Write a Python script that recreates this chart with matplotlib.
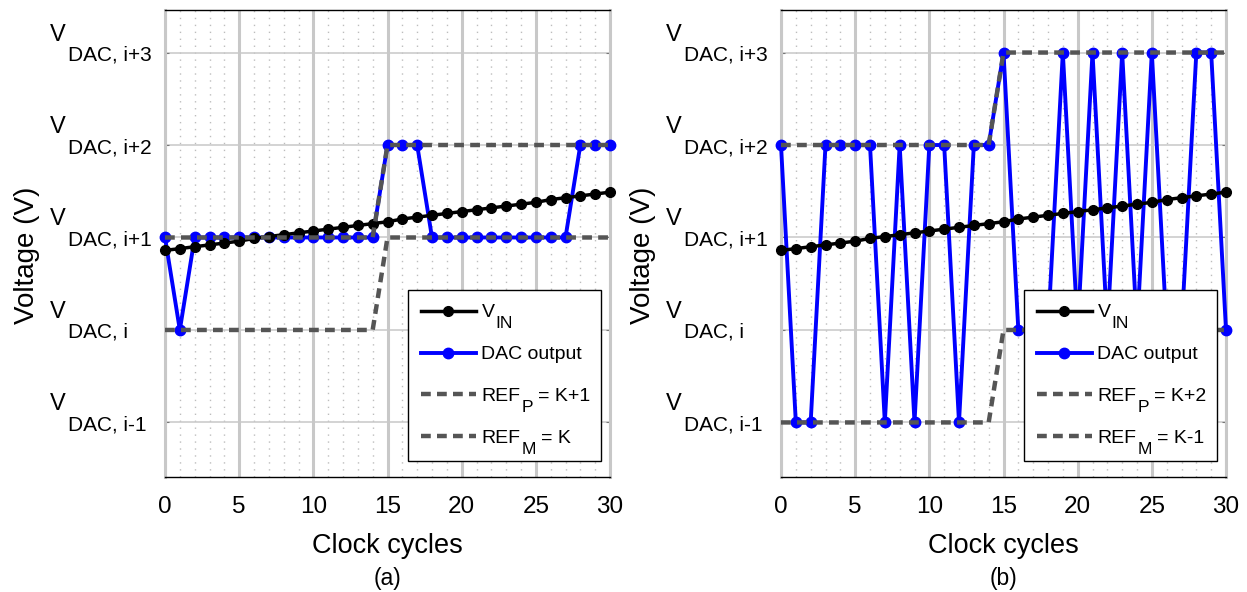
import numpy as np
import matplotlib
matplotlib.use('Agg')
import matplotlib.pyplot as plt
from matplotlib.transforms import IdentityTransform

plt.rcParams['font.family'] = ['Liberation Sans', 'DejaVu Sans']

# clock index and input ramp (in units of DAC levels, level i = 0)
cycles = np.arange(31)
v_in = [0.86, 0.88, 0.90, 0.92, 0.94, 0.96, 0.99, 1.01, 1.03, 1.05, 1.07,
        1.09, 1.11, 1.13, 1.15, 1.17, 1.20, 1.22, 1.24, 1.26, 1.28,
        1.30, 1.32, 1.34, 1.36, 1.38, 1.41, 1.43, 1.45, 1.47, 1.49]

# (a) REF_P = K+1, REF_M = K
dac_a = [1, 0, 1, 1, 1, 1, 1, 1, 1, 1, 1, 1, 1, 1, 1,
         2, 2, 2, 1, 1, 1, 1, 1, 1, 1, 1, 1, 1, 2, 2, 2]
refp_a = [1, 1, 1, 1, 1, 1, 1, 1, 1, 1, 1, 1, 1, 1, 1,
          2, 2, 2, 2, 2, 2, 2, 2, 2, 2, 2, 2, 2, 2, 2, 2]
refm_a = [0, 0, 0, 0, 0, 0, 0, 0, 0, 0, 0, 0, 0, 0, 0,
          1, 1, 1, 1, 1, 1, 1, 1, 1, 1, 1, 1, 1, 1, 1, 1]

# (b) REF_P = K+2, REF_M = K-1
dac_b = [2, -1, -1, 2, 2, 2, 2, -1, 2, -1, 2, 2, -1, 2, 2,
         3, 0, 0, 0, 3, 0, 3, 0, 3, 0, 3, 0, 0, 3, 3, 0]
refp_b = [2, 2, 2, 2, 2, 2, 2, 2, 2, 2, 2, 2, 2, 2, 2,
          3, 3, 3, 3, 3, 3, 3, 3, 3, 3, 3, 3, 3, 3, 3, 3]
refm_b = [-1, -1, -1, -1, -1, -1, -1, -1, -1, -1, -1, -1, -1, -1, -1,
          0, 0, 0, 0, 0, 0, 0, 0, 0, 0, 0, 0, 0, 0, 0, 0]

level_ticks = [-1, 0, 1, 2, 3]
level_subs = ['DAC, i-1', 'DAC, i', 'DAC, i+1', 'DAC, i+2', 'DAC, i+3']

W, H = 1247, 592
fig = plt.figure(figsize=(W / 100, H / 100), dpi=100)

GRID = '#c8c8c8'
REFC = '#555555'
PT = 0.72  # points per pixel at 100 dpi
LEG_FS, SUB_FS = 14, 12.5


def panel(left_px, dac, refp, refm, tag):
    ax = fig.add_axes([left_px / W, 1 - 477 / H, 445 / W, 467 / H])
    ax.set_xlim(0, 30)
    ax.set_ylim(-1.59, 3.46)
    ax.set_xticks(range(0, 31, 5))
    ax.set_xticks(range(31), minor=True)
    ax.set_yticks(level_ticks)
    ax.set_yticklabels([])
    ax.grid(True, which='major', axis='x', color=GRID, lw=2.2)
    ax.grid(True, which='major', axis='y', color=GRID, lw=1.1)
    ax.grid(True, which='minor', axis='x', color='#bdbdbd', lw=1.0, ls=(0, (1, 4)))
    ax.set_axisbelow(True)
    for s in ('left', 'right'):
        ax.spines[s].set_color(GRID)
        ax.spines[s].set_linewidth(2.2)
    for s in ('top', 'bottom'):
        ax.spines[s].set_color('k')
        ax.spines[s].set_linewidth(1.0)
    ax.tick_params(axis='x', which='both', length=0, pad=14, labelsize=17.5)
    ax.tick_params(axis='y', which='major', length=3, direction='in',
                   left=True, right=True, color='#777777')

    h_dac, = ax.plot(cycles, dac, color='#0000ff', lw=2.8, marker='o', ms=7.5,
                     zorder=3, clip_on=False)
    h_vin, = ax.plot(cycles, v_in, color='k', lw=2.5, marker='o', ms=7,
                     zorder=4, clip_on=False)
    h_p, = ax.plot(cycles, refp, color=REFC, lw=3.2, ls=(0, (2.2, 1.4)), zorder=5)
    h_m, = ax.plot(cycles, refm, color=REFC, lw=3.2, ls=(0, (2.2, 1.4)), zorder=5)

    # level labels: V with a lowered DAC subscript
    for t, s in zip(level_ticks, level_subs):
        ax.annotate('V', xy=(0, t), xycoords=('axes fraction', 'data'),
                    xytext=(-115 * PT, 12 * PT), textcoords='offset points',
                    ha='left', va='baseline', fontsize=17)
        ax.annotate(s, xy=(0, t), xycoords=('axes fraction', 'data'),
                    xytext=(-97 * PT, -8 * PT), textcoords='offset points',
                    ha='left', va='baseline', fontsize=15)

    ax.set_xlabel('Clock cycles', fontsize=19.5)
    ax.xaxis.label.set_verticalalignment('baseline')
    ax.xaxis.set_label_coords(0.5, -0.163)
    ax.set_ylabel('Voltage (V)', fontsize=20, va='center')
    ax.yaxis.set_label_coords(-0.31, 0.475)

    # subscripts and "= K" parts are added after layout; a trailing space on
    # the widest label keeps room for them inside the frame
    leg = ax.legend([h_vin, h_dac, h_p, h_m],
                    ['V', 'DAC output ', 'REF', 'REF'],
                    loc='upper left', bbox_to_anchor=(0.545, 0.40),
                    borderaxespad=0, fontsize=LEG_FS, handlelength=2.8,
                    handletextpad=0.3, labelspacing=1.25, borderpad=0.7,
                    fancybox=False, edgecolor='k', framealpha=1, numpoints=1)
    leg.get_frame().set_linewidth(1.0)
    leg.set_zorder(10)

    fig.text((left_px + 222.5) / W, 1 - 578 / H, tag, fontsize=16.5,
             ha='center', va='center')
    return leg


panels = [
    (panel(165, dac_a, refp_a, refm_a, '(a)'), ('= K+1', '= K')),
    (panel(781, dac_b, refp_b, refm_b, '(b)'), ('= K+2', '= K-1')),
]

# legend subscripts sit well below the baseline
fig.canvas.draw()
rend = fig.canvas.get_renderer()
for leg, (kp, km) in panels:
    rows = zip(leg.get_texts(), ['IN', None, 'P', 'M'], [None, None, kp, km])
    for txt, sub, tail in rows:
        if sub is None:
            continue
        bb = txt.get_window_extent(rend)
        prop = txt.get_fontproperties()
        sprop = prop.copy()
        sprop.set_size(SUB_FS)
        _, _, d = rend.get_text_width_height_descent('lp', prop, ismath=False)
        w, _, _ = rend.get_text_width_height_descent(txt.get_text(), prop, ismath=False)
        ws, _, _ = rend.get_text_width_height_descent(sub, sprop, ismath=False)
        sp, _, _ = rend.get_text_width_height_descent('a a', prop, ismath=False)
        sp -= rend.get_text_width_height_descent('aa', prop, ismath=False)[0]
        base = bb.y0 + d
        x_sub = bb.x0 + w + 1
        fig.text(x_sub, base - 10.5, sub, transform=IdentityTransform(),
                 fontsize=SUB_FS, ha='left', va='baseline', zorder=20)
        if tail:
            fig.text(x_sub + ws + sp, base, tail, transform=IdentityTransform(),
                     fontsize=LEG_FS, ha='left', va='baseline', zorder=20)

fig.savefig('out.png', dpi=100)
